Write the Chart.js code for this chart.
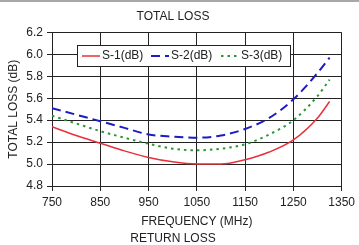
<!DOCTYPE html>
<html>
<head>
<meta charset="utf-8">
<script src="https://cdn.jsdelivr.net/npm/chart.js@4"></script>
<style>
  html, body { margin: 0; padding: 0; background: #fff; }
  #wrap { position: relative; width: 359px; height: 245px; }
  #topbar { position: absolute; left: 0; top: 0; width: 359px; height: 2px; background: #a8a8a8; }
</style>
</head>
<body>
<div id="wrap">
  <canvas id="lossChart" width="359" height="245"></canvas>
  <div id="topbar"></div>
</div>
<script>
// frequencias (MHz)
const freqs = [750, 800, 850, 900, 950, 1000, 1050, 1100, 1150, 1200, 1250, 1300, 1325];
// perdas (dB)
const s1 = [5.34, 5.26, 5.19, 5.12, 5.06, 5.02, 5.00, 5.00, 5.04, 5.11, 5.22, 5.42, 5.57];
const s2 = [5.51, 5.45, 5.39, 5.33, 5.27, 5.25, 5.24, 5.26, 5.32, 5.42, 5.59, 5.83, 5.97];
const s3 = [5.44, 5.37, 5.30, 5.24, 5.185, 5.14, 5.125, 5.14, 5.18, 5.27, 5.40, 5.62, 5.77];
const seriesLabels = ['S-1(dB)', 'S-2(dB)', 'S-3(dB)'];
const xTicks = [750, 850, 950, 1050, 1150, 1250, 1350];
const yTicks = [4.8, 5.0, 5.2, 5.4, 5.6, 5.8, 6.0, 6.2];

const FONT = "'Liberation Sans', Arial, sans-serif";
const TXT = '#222';

function pts(values) {
    return freqs.map((f, i) => ({ x: f, y: values[i] }));
}

// legenda desenhada dentro da area do grafico
const boxLegend = {
    id: 'boxLegend',
    afterDraw(chart) {
        const ctx = chart.ctx;
        const x0 = 77, y0 = 45, w = 213, h = 21;
        ctx.save();
        ctx.fillStyle = '#fff';
        ctx.fillRect(x0, y0, w, h);
        ctx.strokeStyle = '#222';
        ctx.lineWidth = 1;
        ctx.strokeRect(x0 + 0.5, y0 + 0.5, w, h);
        ctx.font = '12px ' + FONT;
        ctx.textBaseline = 'middle';
        ctx.fillStyle = TXT;
        const cy = y0 + h / 2 + 0.5;
        const starts = [82, 151, 221];
        chart.data.datasets.forEach((ds, i) => {
            const sx = starts[i];
            ctx.beginPath();
            ctx.strokeStyle = ds.borderColor;
            ctx.lineWidth = ds.borderWidth;
            ctx.setLineDash(ds.borderDash || []);
            ctx.moveTo(sx, cy);
            ctx.lineTo(sx + 18, cy);
            ctx.stroke();
            ctx.setLineDash([]);
            ctx.fillText(ds.label, sx + 20, cy);
        });
        ctx.restore();
    }
};

const ctx = document.getElementById('lossChart').getContext('2d');
new Chart(ctx, {
    type: 'line',
    data: {
        datasets: [
            {
                label: seriesLabels[0],
                data: pts(s1),
                borderColor: '#e8303a',
                borderWidth: 1.5,
                pointRadius: 0,
                tension: 0.4,
                cubicInterpolationMode: 'monotone'
            },
            {
                label: seriesLabels[1],
                data: pts(s2),
                borderColor: '#1c1cc4',
                borderWidth: 2,
                borderDash: [9, 5],
                pointRadius: 0,
                tension: 0.4,
                cubicInterpolationMode: 'monotone'
            },
            {
                label: seriesLabels[2],
                data: pts(s3),
                borderColor: '#2e9438',
                borderWidth: 2,
                borderDash: [2.5, 4],
                pointRadius: 0,
                tension: 0.4,
                cubicInterpolationMode: 'monotone'
            }
        ]
    },
    options: {
        responsive: false,
        animation: false,
        layout: { padding: { left: 0, right: 13, top: 0, bottom: 0 } },
        plugins: {
            legend: { display: false },
            tooltip: { enabled: false },
            title: {
                display: true,
                text: 'TOTAL LOSS',
                color: TXT,
                font: { family: FONT, size: 12, weight: 'normal' },
                padding: { top: 9, bottom: 9 }
            },
            subtitle: {
                display: true,
                position: 'bottom',
                text: 'RETURN LOSS',
                align: 'center',
                color: TXT,
                font: { family: FONT, size: 12, lineHeight: 1.0 },
                padding: { top: 0, bottom: 0 }
            }
        },
        scales: {
            x: {
                type: 'linear',
                min: 750,
                max: 1350,
                afterBuildTicks: s => { s.ticks = xTicks.map(v => ({ value: v })); },
                afterFit: s => { s.height = 47; },
                grid: { color: '#222', lineWidth: 1, tickLength: 5 },
                border: { color: '#222', width: 1 },
                ticks: {
                    color: TXT,
                    padding: 4,
                    font: { family: FONT, size: 12 },
                    callback: v => String(v)
                },
                title: {
                    display: true,
                    text: 'FREQUENCY (MHz)',
                    color: TXT,
                    font: { family: FONT, size: 12 },
                    padding: { top: 0, bottom: 4 }
                }
            },
            y: {
                min: 4.8,
                max: 6.2,
                afterBuildTicks: s => { s.ticks = yTicks.map(v => ({ value: v })); },
                afterFit: s => { s.width = 52; },
                grid: { color: '#222', lineWidth: 1, tickLength: 5 },
                border: { color: '#222', width: 1 },
                ticks: {
                    color: TXT,
                    padding: 4,
                    font: { family: FONT, size: 12 },
                    callback: v => v.toFixed(1)
                },
                title: {
                    display: true,
                    text: 'TOTAL LOSS (dB)',
                    color: TXT,
                    font: { family: FONT, size: 12 },
                    padding: { top: 6, bottom: 0 }
                }
            }
        }
    },
    plugins: [boxLegend]
});
</script>
</body>
</html>
